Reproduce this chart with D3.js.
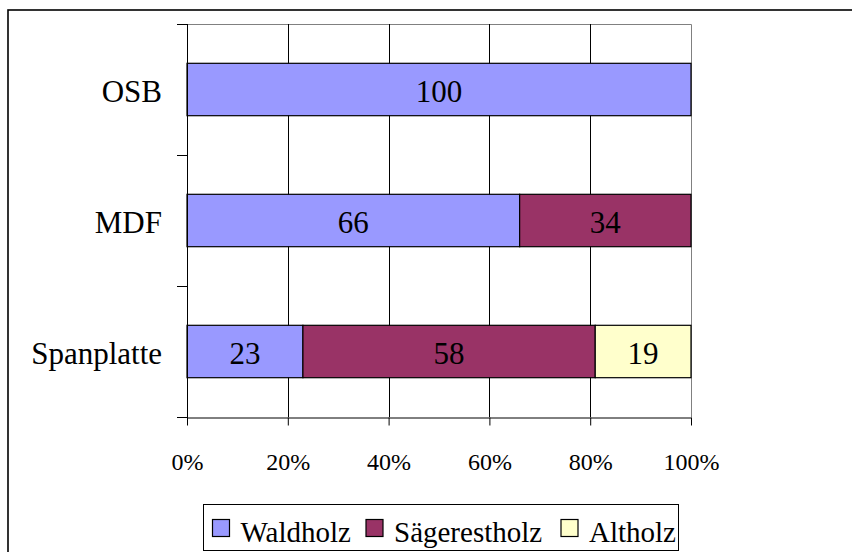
<!DOCTYPE html>
<html>
<head>
<meta charset="utf-8">
<script src="https://cdn.jsdelivr.net/npm/d3@7"></script>
</head>
<body style="margin:0;padding:0;background:#fff">
<svg id="chart" width="852" height="552" style="display:block" font-family="Liberation Serif, Tinos, Times New Roman, Times, serif"></svg>
<script>
// Raw material shares per board type (percent)
const categories = ["OSB", "MDF", "Spanplatte"];
const seriesNames = ["Waldholz", "Sägerestholz", "Altholz"];
const waldholz = [100, 66, 23];
const saegerestholz = [0, 34, 58];
const altholz = [0, 0, 19];
const xTicks = [0, 20, 40, 60, 80, 100];
const colors = ["#9999FF", "#993366", "#FFFFCC"];

const FONT = "Liberation Serif, Tinos, Times New Roman, Times, serif";

const rows = categories.map((c, i) => ({
  cat: c,
  Waldholz: waldholz[i],
  "Sägerestholz": saegerestholz[i],
  Altholz: altholz[i]
}));

const svg = d3.select("#chart");
const plot = { left: 187, right: 691, top: 24, bottom: 417 };

// Outer frame
svg.append("rect")
  .attr("x", 8).attr("y", 10)
  .attr("width", 900).attr("height", 600)
  .attr("fill", "none").attr("stroke", "#000").attr("stroke-width", 1.6);

const x = d3.scaleLinear().domain([0, 100]).range([plot.left, plot.right]);
const y = d3.scaleBand().domain(categories).range([plot.top, plot.bottom])
  .paddingInner(0.6).paddingOuter(0.3);

// Plot border (top and right)
svg.append("path")
  .attr("d", `M${plot.left},${plot.top + 0.5}H${plot.right + 0.5}V${plot.bottom}`)
  .attr("fill", "none").attr("stroke", "#808080").attr("stroke-width", 1);

// Vertical gridlines
svg.append("g")
  .selectAll("line")
  .data(xTicks.filter(t => t > 0 && t < 100))
  .join("line")
  .attr("x1", d => Math.round(x(d)) + 0.5).attr("x2", d => Math.round(x(d)) + 0.5)
  .attr("y1", plot.top).attr("y2", plot.bottom)
  .attr("stroke", "#000").attr("stroke-width", 1);

// Stacked bars
const stack = d3.stack().keys(seriesNames)(rows);
const layers = svg.append("g").selectAll("g")
  .data(stack)
  .join("g")
  .attr("fill", (d, i) => colors[i]);

layers.selectAll("rect")
  .data(d => d.filter(s => s[1] - s[0] > 0))
  .join("rect")
  .attr("x", d => x(d[0]))
  .attr("y", d => y(d.data.cat))
  .attr("width", d => x(d[1]) - x(d[0]))
  .attr("height", y.bandwidth())
  .attr("stroke", "#000").attr("stroke-width", 1.2);

// Value labels inside segments
svg.append("g").selectAll("text")
  .data(stack.flatMap(layer => layer.filter(s => s[1] - s[0] > 0).map(s => ({ s, key: layer.key }))))
  .join("text")
  .attr("x", d => (x(d.s[0]) + x(d.s[1])) / 2)
  .attr("y", d => y(d.s.data.cat) + y.bandwidth() / 2 + 12)
  .attr("text-anchor", "middle")
  .attr("fill", "#000")
  .attr("font-family", FONT)
  .attr("font-size", 31)
  .text(d => d.s.data[d.key]);

// X axis
const xAxis = svg.append("g")
  .attr("transform", `translate(0,${plot.bottom + 0.5})`)
  .call(d3.axisBottom(x).tickValues(xTicks).tickFormat(d => d + "%").tickSize(8).tickPadding(27).tickSizeOuter(0))
  .attr("font-family", FONT)
  .attr("font-size", 24);
xAxis.select(".domain").attr("stroke", "#000");
xAxis.selectAll(".tick line").attr("stroke", "#000");
xAxis.selectAll(".tick text").attr("fill", "#000");

// Y axis: ticks at category boundaries
svg.append("line")
  .attr("x1", plot.left + 0.5).attr("x2", plot.left + 0.5)
  .attr("y1", plot.top).attr("y2", plot.bottom + 8)
  .attr("stroke", "#000");
const step = y.step();
const bounds = d3.range(categories.length + 1).map(i => plot.top + i * step);
svg.append("g").selectAll("line")
  .data(bounds)
  .join("line")
  .attr("x1", plot.left - 10).attr("x2", plot.left)
  .attr("y1", d => Math.round(d) + 0.5).attr("y2", d => Math.round(d) + 0.5)
  .attr("stroke", "#000");

svg.append("g").selectAll("text")
  .data(categories)
  .join("text")
  .attr("x", 162)
  .attr("y", d => y(d) + y.bandwidth() / 2 + 12)
  .attr("text-anchor", "end")
  .attr("font-family", FONT)
  .attr("font-size", 31)
  .attr("fill", "#000")
  .text(d => d);

// Legend
const legend = svg.append("g");
legend.append("rect")
  .attr("x", 203.5).attr("y", 504.5)
  .attr("width", 475).attr("height", 46)
  .attr("fill", "#fff").attr("stroke", "#000").attr("stroke-width", 1);
const legendX = [212.5, 366, 561];
seriesNames.forEach((name, i) => {
  legend.append("rect")
    .attr("x", legendX[i]).attr("y", 519.5)
    .attr("width", 17).attr("height", 17)
    .attr("fill", colors[i]).attr("stroke", "#000").attr("stroke-width", 1.2);
  legend.append("text")
    .attr("x", legendX[i] + 28).attr("y", 542)
    .attr("font-family", FONT)
    .attr("font-size", 29)
    .attr("fill", "#000")
    .text(name);
});
</script>
</body>
</html>
